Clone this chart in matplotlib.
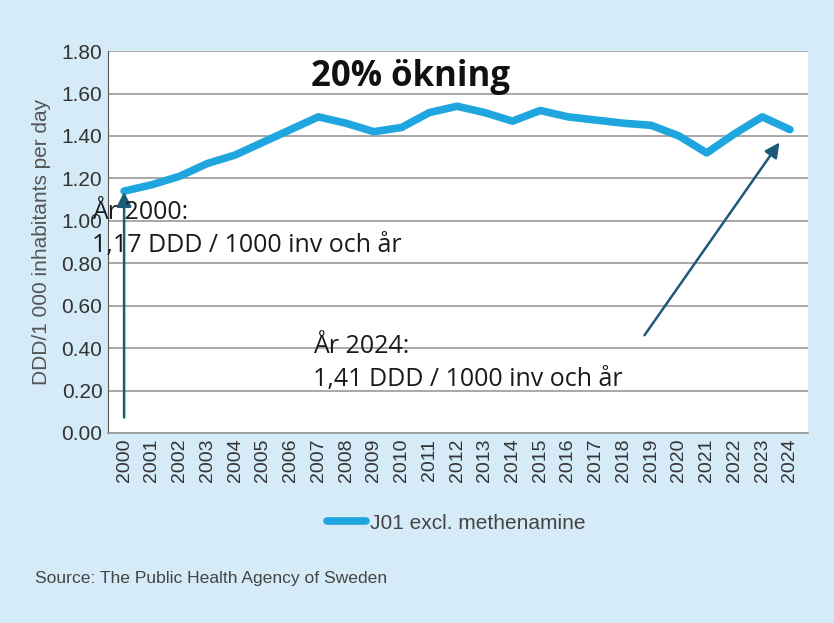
import numpy as np
import matplotlib.pyplot as plt

years = list(range(2000, 2025))
ddd = [1.14, 1.17, 1.21, 1.27, 1.31, 1.37, 1.43, 1.49, 1.46, 1.42, 1.44, 1.51, 1.54,
       1.51, 1.47, 1.52, 1.49, 1.475, 1.46, 1.45, 1.40, 1.32, 1.41, 1.49, 1.43]
yticks = [0.0, 0.2, 0.4, 0.6, 0.8, 1.0, 1.2, 1.4, 1.6, 1.8]

bg = '#d5ebf7'
line_col = '#1fa6df'
arrow_col = '#1d5a78'

plt.rcParams['font.family'] = ['Liberation Sans', 'DejaVu Sans']

fig = plt.figure(figsize=(8.34, 6.23), dpi=100, facecolor=bg)
ax = fig.add_axes([0.1295, 0.305, 0.8393, 0.613])
ax.set_facecolor('white')

x = np.arange(len(years))
ax.plot(x, ddd, color=line_col, lw=5.5, solid_capstyle='round', solid_joinstyle='round',
        label='J01 excl. methenamine', zorder=3)

ax.set_xlim(-0.58, len(years) - 1 + 0.65)
ax.set_ylim(0, 1.8)
ax.set_yticks(yticks)
ax.set_yticklabels(['%.2f' % v for v in yticks], fontsize=15, color='#333333')
ax.set_xticks(x)
ax.set_xticklabels([str(y) for y in years], rotation=90, fontsize=14, color='#333333')
ax.tick_params(length=0, pad=4)
ax.grid(axis='y', color='#9a9a9a', lw=1.2, zorder=1)
for s in ['top', 'right']:
    ax.spines[s].set_visible(False)
ax.spines['left'].set_color('#555555')
ax.spines['bottom'].set_color('#9a9a9a')
ax.spines['bottom'].set_linewidth(1.2)

ax.set_ylabel('DDD/1 000 inhabitants per day', fontsize=15, color='#555555')
ax.yaxis.set_label_coords(-0.081, 0.5)

ax.text(10.34, 1.68, '20% ökning', fontsize=25, fontweight='bold',
        family=['Open Sans', 'DejaVu Sans'], ha='center', va='center', color='#111111', zorder=5)

ax.annotate('', xy=(0, 1.15), xytext=(0, 0.06),
            arrowprops=dict(arrowstyle='-|>', color=arrow_col, lw=1.8, mutation_scale=22), zorder=4)
ax.annotate('', xy=(23.68, 1.38), xytext=(18.7, 0.45),
            arrowprops=dict(arrowstyle='-|>', color=arrow_col, lw=1.8, mutation_scale=22), zorder=4)

ax.text(-1.15, 0.96, 'År 2000:\n1,17 DDD / 1000 inv och år', fontsize=18,
        family=['Open Sans', 'DejaVu Sans'], ha='left', va='center', linespacing=1.42,
        color='#1a1a1a', zorder=5)
ax.text(6.81, 0.33, 'År 2024:\n1,41 DDD / 1000 inv och år', fontsize=18,
        family=['Open Sans', 'DejaVu Sans'], ha='left', va='center', linespacing=1.42,
        color='#1a1a1a', zorder=5)

leg = fig.legend(loc='center', bbox_to_anchor=(0.547, 0.1605), frameon=False, fontsize=15,
                 handlelength=1.9, handletextpad=0.2)
for t in leg.get_texts():
    t.set_color('#444444')

fig.text(0.042, 0.072, 'Source: The Public Health Agency of Sweden', fontsize=12.6,
         color='#444444', ha='left', va='center')

fig.savefig('out.png', dpi=100, facecolor=bg)
